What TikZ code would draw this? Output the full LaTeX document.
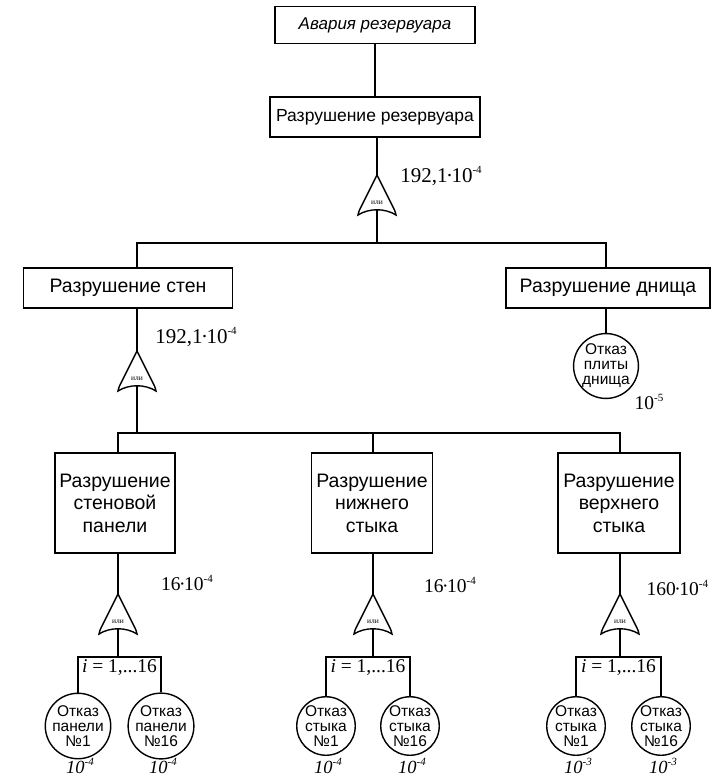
\documentclass[tikz,border=0pt]{standalone}
\usepackage{fontspec}
\setmainfont{Liberation Serif}
\setsansfont{Liberation Sans}
\usepackage{tikz}

\newcommand{\pw}[1]{\raisebox{0.45em}{\fontsize{11}{11}\selectfont #1}}
\newcommand{\md}{\kern-1.5pt·\kern-1.5pt}

\tikzset{
   box/.style={draw, line width=1.6pt, align=center, inner sep=2pt,
      font=\sffamily\fontsize{19.5}{22.5}\selectfont},
   event/.style={draw, circle, line width=1.4pt, minimum size=58pt, inner sep=0pt,
      align=center, font=\sffamily\fontsize{15.5}{15}\selectfont},
   prob/.style={inner sep=0pt, font=\fontsize{19.5}{20}\selectfont},
   probit/.style={prob, font=\itshape\fontsize{18.5}{19}\selectfont},
   orgate/.pic={
      \draw[line width=1.4pt, fill=white] (0,0) -- (-17,34) .. controls (-18,36) .. (-19,40)
         .. controls (-8,33) and (8,33) .. (19,40) .. controls (18,36) .. (17,34) -- cycle;
      \node[inner sep=0pt, font=\fontsize{7.5}{8}\selectfont] at (0,28) {или};
      \coordinate (-in) at (0,0);
      \coordinate (-out) at (0,35);
   }
}

\begin{document}
\begin{tikzpicture}[x=1pt, y=-1pt, line width=1.4pt]
   \useasboundingbox (0,0) rectangle (714,779);

   % top events
   \node[box, minimum width=200pt, minimum height=37pt,
      font=\sffamily\itshape\fontsize{17}{20}\selectfont] (top) at (375,25) {Авария резервуара};
   \node[box, minimum width=210pt, minimum height=40pt,
      font=\sffamily\fontsize{17.5}{20}\selectfont] (res) at (375,117) {Разрушение резервуара};
   \node[box, minimum width=209pt, minimum height=40pt] (walls) at (128,288) {Разрушение стен};
   \node[box, minimum width=204pt, minimum height=40pt] (bot) at (608,288) {Разрушение днища};

   % second level
   \node[box, minimum width=120pt, minimum height=100pt] (panel) at (115,503)
      {Разрушение\\стеновой\\панели};
   \node[box, minimum width=121pt, minimum height=100pt] (lower) at (372,503)
      {Разрушение\\нижнего\\стыка};
   \node[box, minimum width=122pt, minimum height=100pt] (upper) at (619,503)
      {Разрушение\\верхнего\\стыка};

   % gates
   \pic (g1) at (377,175) {orgate};
   \pic (g2) at (137,351) {orgate};
   \pic (g3) at (118,594) {orgate};
   \pic (g4) at (373,594) {orgate};
   \pic (g5) at (620,594) {orgate};

   % basic events
   \node[event, minimum size=54pt] (plate) at (606,366) {Отказ\\плиты\\днища};
   \node[event] (pa1) at (78,726) {Отказ\\панели\\№1};
   \node[event] (pa16) at (161,726) {Отказ\\панели\\№16};
   \node[event] (lj1) at (326,726) {Отказ\\стыка\\№1};
   \node[event] (lj16) at (410,726) {Отказ\\стыка\\№16};
   \node[event] (uj1) at (576,726) {Отказ\\стыка\\№1};
   \node[event] (uj16) at (661,726) {Отказ\\стыка\\№16};

   % index brackets
   \node[prob, anchor=north, inner sep=2pt] (ia) at (119.5,657) {\textit{i} = 1,...16};
   \node[prob, anchor=north, inner sep=2pt] (ib) at (368,657) {\textit{i} = 1,...16};
   \node[prob, anchor=north, inner sep=2pt] (ic) at (618.5,657) {\textit{i} = 1,...16};

   % probabilities
   \node[prob, font=\fontsize{21}{22}\selectfont] (q1) at (441,176) {192,1\md10\pw{-4}};
   \node[prob, font=\fontsize{21}{22}\selectfont] (q2) at (196,337) {192,1\md10\pw{-4}};
   \node[prob] (q3) at (187,583) {16\md10\pw{-4}};
   \node[prob] (q4) at (450,585) {16\md10\pw{-4}};
   \node[prob, anchor=west] (q5) at (646,588) {160\md10\pw{-4}};
   \node[prob] (q6) at (649,402) {10\pw{-5}};
   \node[probit] (q7) at (80,766) {10\pw{-4}};
   \node[probit] (q8) at (163,766) {10\pw{-4}};
   \node[probit] (q9) at (328,766) {10\pw{-4}};
   \node[probit] (q10) at (412,766) {10\pw{-4}};
   \node[probit] (q11) at (578,766) {10\pw{-3}};
   \node[probit] (q12) at (663,766) {10\pw{-3}};

   % connectors
   \coordinate (j1) at (377,243);
   \coordinate (j2) at (137,433);
   \draw (top) -- (res);
   \draw (res.south -| g1-in) -- (g1-in);
   \draw (g1-out) -- (j1);
   \draw (walls.north -| g2-in) |- (j1) -| (bot.north -| plate);
   \draw (bot.south -| plate) -- (plate);
   \draw (walls.south -| g2-in) -- (g2-in);
   \draw (g2-out) -- (j2);
   \draw (panel.north -| g3-in) |- (j2) -| (upper.north -| g5-in);
   \draw (lower.north -| g4-in) -- (j2 -| g4-in);
   \draw (panel.south -| g3-in) -- (g3-in);
   \draw (lower.south -| g4-in) -- (g4-in);
   \draw (upper.south -| g5-in) -- (g5-in);
   \draw (g3-out) -- (g3-out |- ia.north);
   \draw (g4-out) -- (g4-out |- ib.north);
   \draw (g5-out) -- (g5-out |- ic.north);
   \draw (pa1) |- (ia.north) -| (pa16);
   \draw (lj1) |- (ib.north) -| (lj16);
   \draw (uj1) |- (ic.north) -| (uj16);

\end{tikzpicture}
\end{document}
